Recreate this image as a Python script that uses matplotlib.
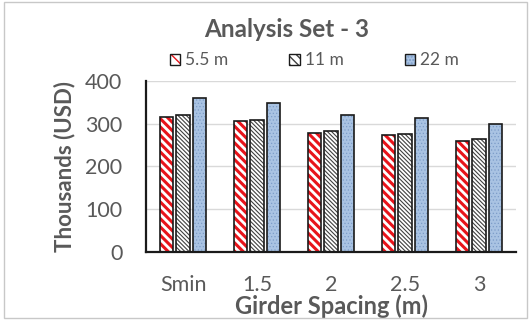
import numpy as np
import matplotlib.pyplot as plt
from matplotlib.patches import Rectangle, Patch
from matplotlib.legend_handler import HandlerTuple

plt.rcParams['font.family'] = ['Lato', 'DejaVu Sans']

# data
categories = ['Smin', '1.5', '2', '2.5', '3']
series_names = ['5.5 m', '11 m', '22 m']
cost_55 = [315, 305, 279, 273, 260]
cost_11 = [320, 308, 283, 276, 263]
cost_22 = [360, 347, 319, 312, 300]

text_grey = '#595959'

fig = plt.figure(figsize=(5.31, 3.2), dpi=100)
ax = fig.add_axes([0.275, 0.2116, 0.697, 0.5366])

x = np.arange(len(categories))
w = 0.18
off = 0.225

# hatch colour follows edgecolor, so draw the hatched fill first, then the dark outline
styles = [
    dict(fc='white', hc='#e8141b', hatch='\\\\\\\\', hlw=2.2),
    dict(fc='white', hc='#404040', hatch='\\\\\\\\\\\\\\\\', hlw=0.8),
    dict(fc='#a9c3e3', hc='#7d9dc9', hatch='.....', hlw=0.5),
]
all_vals = [cost_55, cost_11, cost_22]

handles = []
for i, (vals, st) in enumerate(zip(all_vals, styles)):
    pos = x + (i - 1) * off
    with plt.rc_context({'hatch.linewidth': st['hlw']}):
        b = ax.bar(pos, vals, w, color=st['fc'], edgecolor=st['hc'],
                   hatch=st['hatch'], linewidth=0, zorder=2)
        for r in b:
            if hasattr(r, 'set_hatch_linewidth'):
                r.set_hatch_linewidth(st['hlw'])
        h1 = Patch(facecolor=st['fc'], edgecolor=st['hc'], linewidth=0,
                   hatch=st['hatch'][:len(st['hatch']) // 2] if i < 2 else st['hatch'])
        if hasattr(h1, 'set_hatch_linewidth'):
            h1.set_hatch_linewidth(st['hlw'] * 0.7)
    ax.bar(pos, vals, w, fill=False, edgecolor='#1a1a1a', linewidth=1.2, zorder=3)
    h2 = Patch(fill=False, edgecolor='#1a1a1a', linewidth=1.0)
    handles.append((h1, h2))

ax.set_ylim(0, 400)
ax.set_xlim(-0.5, 4.5)
ax.set_yticks([0, 100, 200, 300, 400])
ax.set_xticks(x)
ax.set_xticklabels(categories)
ax.yaxis.grid(True, color='#d9d9d9', linewidth=1.0, zorder=0)
ax.set_axisbelow(True)
ax.tick_params(length=0, labelsize=15.5, labelcolor=text_grey)
ax.tick_params(axis='y', pad=17)
ax.tick_params(axis='x', pad=16)
for s in ['top', 'right']:
    ax.spines[s].set_visible(False)
ax.spines['left'].set_linewidth(1.6)
ax.spines['left'].set_color('#1a1a1a')
ax.spines['bottom'].set_linewidth(1.6)
ax.spines['bottom'].set_color('#1a1a1a')

ax.set_xlabel('Girder Spacing (m)', fontsize=17, fontweight='bold', color=text_grey, labelpad=0)
ax.set_ylabel('Thousands (USD)', fontsize=16, fontweight='bold', color=text_grey, labelpad=7)

fig.text(0.539, 0.907, 'Analysis Set - 3', ha='center', va='center',
         fontsize=17.5, fontweight='bold', color=text_grey)

leg = fig.legend(handles, series_names, loc='center', bbox_to_anchor=(0.592, 0.812),
                 ncol=3, frameon=False, fontsize=12.5, handlelength=0.6, handleheight=0.6,
                 handletextpad=0.3, columnspacing=3.5, labelcolor=text_grey,
                 handler_map={tuple: HandlerTuple(ndivide=1, pad=0)})

# chart area border
fig.patches.append(Rectangle((0.008, 0.006), 0.984, 0.988, transform=fig.transFigure,
                             fill=False, edgecolor='#c8c8c8', linewidth=1.0))

fig.savefig('out.png', dpi=100)
